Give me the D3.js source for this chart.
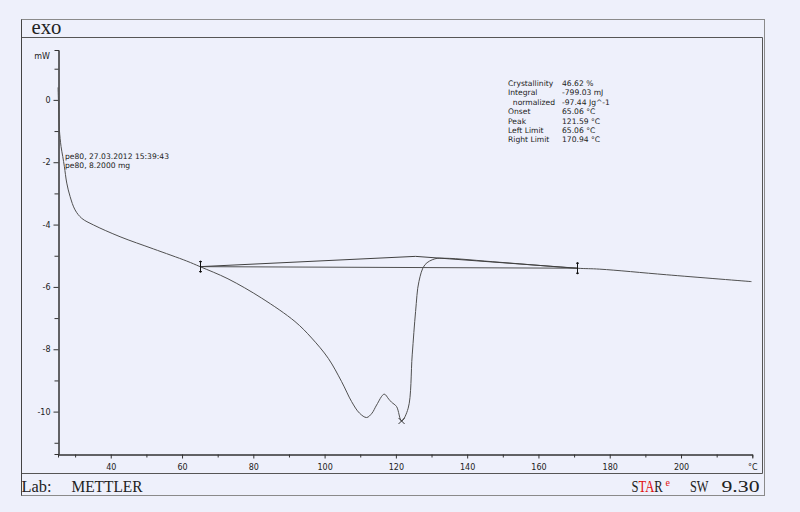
<!DOCTYPE html>
<html>
<head>
<meta charset="utf-8">
<script src="https://cdn.jsdelivr.net/npm/d3@7"></script>
<style>
  body { margin: 0; background: #eef0fb; }
  svg { display: block; }
  text { fill: #222; }
</style>
</head>
<body>
<div id="chart"></div>
<script>
// DSC curve: temperature (°C) and heat flow (mW)
const temps = [25.22, 25.4, 25.59, 26.06, 26.54, 26.99, 27.66, 28.59, 29.99, 31.87, 35.12, 42.61,
  51.95, 61.31, 65.06, 72.89, 82.34, 91.68, 96.37, 101.02, 104.78, 107.58, 109.8, 111.79,
  113.3, 114.59, 116.72, 118.0, 118.8, 120.2, 121.59, 123.45, 124.58, 125.53, 126.46,
  128.14, 130.94, 133.75, 149.17, 170.76, 177.21, 195.92, 219.76];
const heatFlow = [0.40, -0.3, -0.96, -1.5, -1.82, -2.14, -2.67, -3.10, -3.53, -3.80, -4.01, -4.39,
  -4.78, -5.17, -5.35, -5.74, -6.36, -7.11, -7.64, -8.29, -9.04, -9.68, -10.05, -10.19,
  -10.05, -9.79, -9.44, -9.6, -9.70, -9.84, -10.3, -9.89, -8.18, -6.79, -5.83,
  -5.29, -5.10, -5.08, -5.21, -5.40, -5.43, -5.61, -5.83];

// integration baselines
const baseLineT = [65.06, 170.94];
const baseLineY = [-5.35, -5.40];
const upperLineT = [65.06, 125.5, 170.94];
const upperLineY = [-5.35, -5.02, -5.40];

const limits = [65.06, 170.94];
const peak = { t: 121.59, y: -10.3 };

const xMajor = [40, 60, 80, 100, 120, 140, 160, 180, 200, 220];
const xMinor = [30, 50, 70, 90, 110, 130, 150, 170, 190, 210];
const yMajor = [0, -2, -4, -6, -8, -10];
const yMinor = [1, -1, -3, -5, -7, -9, -11];

const resultLabels = ["Crystallinity", "Integral", "  normalized", "Onset", "Peak", "Left Limit", "Right Limit"];
const resultValues = ["46.62 %", "-799.03 mJ", "-97.44 Jg^-1", "65.06 °C", "121.59 °C", "65.06 °C", "170.94 °C"];

const sampleInfo = ["pe80, 27.03.2012 15:39:43", "pe80, 8.2000 mg"];

// footer pieces: text, left x, width
const footer = [
  ["Lab:", 21.5, 30],
  ["METTLER", 71.5, 71],
  ["SW", 690, 18.5],
  ["9.30", 721.5, 38]
];

const width = 800, height = 512;
const svg = d3.select("#chart").append("svg")
  .attr("width", width)
  .attr("height", height);

const serif = "'Liberation Serif', 'DejaVu Serif', serif";
const sans = "'DejaVu Sans', 'Liberation Sans', sans-serif";

// frames
svg.append("rect")
  .attr("x", 21.5).attr("y", 19.5).attr("width", 743).attr("height", 476)
  .attr("fill", "none").attr("stroke", "#8a8a8a");
svg.append("path")
  .attr("d", "M21.5,37.5H762.5V473.5H21.5")
  .attr("fill", "none").attr("stroke", "#555");
svg.append("path")
  .attr("d", "M21.5,19.5V495.5")
  .attr("stroke", "#444");

svg.append("text")
  .attr("x", 31.5).attr("y", 33.5)
  .attr("textLength", 30).attr("lengthAdjust", "spacingAndGlyphs")
  .style("font-family", serif).style("font-size", "20px")
  .text("exo");

svg.selectAll(".footer")
  .data(footer)
  .join("text")
  .attr("class", "footer")
  .attr("x", d => d[1]).attr("y", 491.5)
  .attr("textLength", d => d[2]).attr("lengthAdjust", "spacingAndGlyphs")
  .style("font-family", serif).style("font-size", "17.5px")
  .text(d => d[0]);

// STARe logo, squeezed horizontally like the original narrow face
const star = svg.append("g")
  .attr("transform", "translate(631.5,491.5) scale(0.72,1)")
  .append("text")
  .style("font-family", serif).style("font-size", "17.5px");
star.append("tspan").text("S");
star.append("tspan").style("fill", "#e01010").text("TA");
star.append("tspan").text("R");

svg.append("text")
  .attr("x", 665.5).attr("y", 485.5)
  .style("font-family", serif).style("font-size", "10px")
  .style("fill", "#e01010").text("e");

// scales
const x = d3.scaleLinear().domain([25.2, 220]).range([58, 752.3]);
const y = d3.scaleLinear().domain([1.6, -11.36]).range([50, 454]);

const axisColor = "#333";

// y axis
const gy = svg.append("g").attr("transform", "translate(58.5,0)");
gy.call(d3.axisLeft(y).tickValues(yMajor).tickSize(5).tickPadding(3)
  .tickFormat(d => String(d)).tickSizeOuter(0));
gy.append("g").call(d3.axisLeft(y).tickValues(yMinor).tickSize(4).tickFormat(""));
gy.selectAll(".domain").attr("stroke", axisColor);
gy.selectAll("line").attr("stroke", axisColor);
gy.selectAll("text").style("font-family", sans).style("font-size", "8px").attr("fill", "#333");

svg.append("text")
  .attr("x", 50).attr("y", 59)
  .attr("text-anchor", "end")
  .style("font-family", sans).style("font-size", "8px")
  .text("mW");

// x axis
const gx = svg.append("g").attr("transform", "translate(0,454.5)");
gx.call(d3.axisBottom(x).tickValues(xMajor).tickSize(4).tickPadding(6)
  .tickFormat(d => d === 220 ? "°C" : String(d)).tickSizeOuter(0));
gx.append("g").call(d3.axisBottom(x).tickValues(xMinor).tickSize(3).tickFormat(""));
gx.selectAll(".domain").attr("stroke", axisColor);
gx.selectAll("line").attr("stroke", axisColor);
gx.selectAll("text").style("font-family", sans).style("font-size", "8px").attr("fill", "#333");

// curve
const curveData = temps.map((t, i) => ({ t, v: heatFlow[i] }));
const line = d3.line()
  .x(d => x(d.t))
  .y(d => y(d.v))
  .curve(d3.curveCatmullRom.alpha(0.5));

svg.append("path")
  .datum(curveData)
  .attr("fill", "none")
  .attr("stroke", "#505050")
  .attr("stroke-width", 1)
  .attr("d", line);

const straight = d3.line().x(d => x(d[0])).y(d => y(d[1]));
svg.append("path")
  .attr("fill", "none").attr("stroke", "#505050")
  .attr("d", straight(baseLineT.map((t, i) => [t, baseLineY[i]])));
svg.append("path")
  .attr("fill", "none").attr("stroke", "#404040")
  .attr("d", straight(upperLineT.map((t, i) => [t, upperLineY[i]])));

// limit markers
limits.forEach((t, i) => {
  const cx = Math.round(x(t)) + 0.5;
  const cy = y(baseLineY[i]);
  const g = svg.append("g").attr("stroke", "#111");
  g.append("line").attr("x1", cx).attr("x2", cx).attr("y1", cy - 6).attr("y2", cy + 6);
  g.append("line").attr("x1", cx - 1.5).attr("x2", cx + 1.5).attr("y1", cy - 5).attr("y2", cy - 5);
  g.append("line").attr("x1", cx - 1.5).attr("x2", cx + 1.5).attr("y1", cy + 5).attr("y2", cy + 5);
});

// peak cross
const px = x(peak.t), py = y(peak.y);
svg.append("path")
  .attr("d", `M${px - 3},${py - 3}L${px + 3},${py + 3}M${px - 3},${py + 3}L${px + 3},${py - 3}`)
  .attr("stroke", "#333").attr("fill", "none");

// sample info
svg.selectAll(".info")
  .data(sampleInfo)
  .join("text")
  .attr("x", 65)
  .attr("y", (d, i) => 159 + i * 9.3)
  .style("font-family", sans).style("font-size", "7.6px")
  .text(d => d);

// results block
svg.selectAll(".rlabel")
  .data(resultLabels)
  .join("text")
  .attr("x", 508)
  .attr("y", (d, i) => 86 + i * 9.4)
  .attr("xml:space", "preserve")
  .style("font-family", sans).style("font-size", "7.6px")
  .text(d => d);

svg.selectAll(".rvalue")
  .data(resultValues)
  .join("text")
  .attr("x", 562)
  .attr("y", (d, i) => 86 + i * 9.4)
  .style("font-family", sans).style("font-size", "7.6px")
  .text(d => d);
</script>
</body>
</html>
